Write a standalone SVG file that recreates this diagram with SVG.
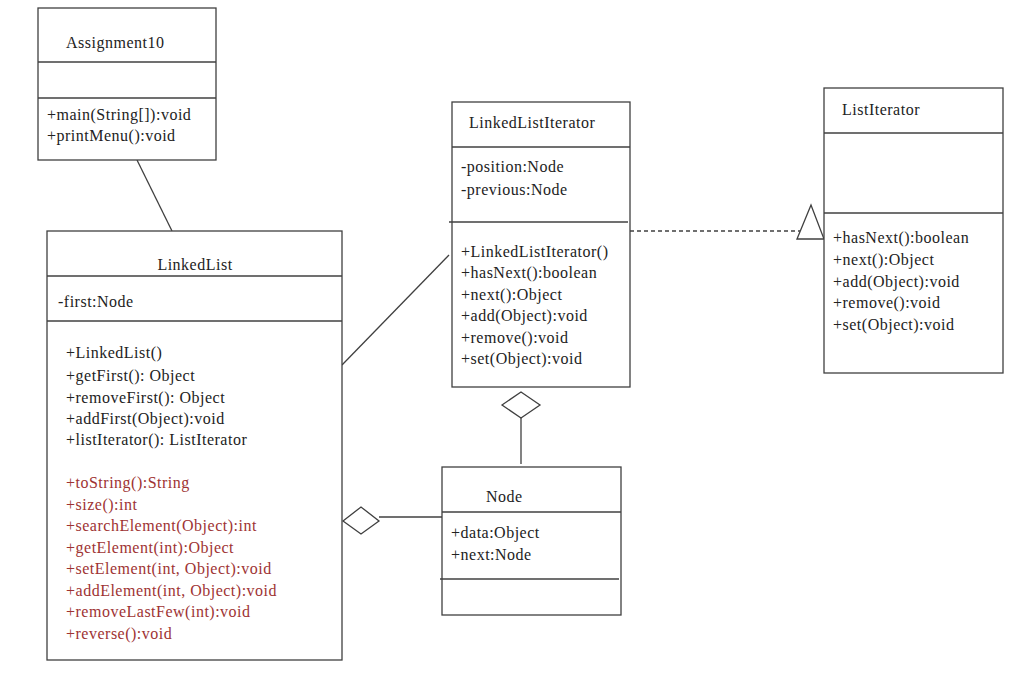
<svg xmlns="http://www.w3.org/2000/svg" width="1024" height="679" viewBox="0 0 1024 679">
<style>
.box{fill:#fff;stroke:#404040;stroke-width:1.3}
.ln{stroke:#404040;stroke-width:1.3;fill:none}
text{font-family:"Liberation Serif","Times New Roman",serif;font-size:16px;fill:#222;letter-spacing:0.5px}
.red{fill:#9e3333}
</style>
<rect width="1024" height="679" fill="#fff"/>
<g id="connectors">
<line class="ln" x1="137" y1="160" x2="172" y2="231"/>
<line class="ln" x1="342" y1="365" x2="449" y2="255"/>
<line class="ln" x1="630" y1="231" x2="800" y2="231" stroke-dasharray="4,3"/>
<polygon class="ln" points="797,239 811,205 824,239" style="fill:#fff"/>
<polygon class="ln" points="502,405 521,392 540,405 521,418" style="fill:#fff"/>
<line class="ln" x1="521" y1="418" x2="521" y2="464"/>
<polygon class="ln" points="343,521 361,507 379,521 361,534" style="fill:#fff"/>
<line class="ln" x1="379" y1="517" x2="442" y2="517"/>
</g>
<g id="Assignment10">
<rect class="box" x="38" y="8" width="178" height="152"/>
<line class="ln" x1="38" y1="62" x2="216" y2="62"/>
<line class="ln" x1="38" y1="98" x2="216" y2="98"/>
<text x="66" y="48">Assignment10</text>
<text x="47" y="120">+main(String[]):void</text>
<text x="47" y="141">+printMenu():void</text>
</g>
<g id="LinkedList">
<rect class="box" x="47" y="231" width="295" height="429"/>
<line class="ln" x1="47" y1="276" x2="342" y2="276"/>
<line class="ln" x1="47" y1="321" x2="342" y2="321"/>
<text x="195" y="270" text-anchor="middle">LinkedList</text>
<text x="58" y="307">-first:Node</text>
<text x="66" y="358">+LinkedList()</text>
<text x="66" y="381">+getFirst(): Object</text>
<text x="66" y="403">+removeFirst():  Object</text>
<text x="66" y="424">+addFirst(Object):void</text>
<text x="66" y="445">+listIterator(): ListIterator</text>
<g class="red">
<text class="red" x="66" y="488">+toString():String</text>
<text class="red" x="66" y="510">+size():int</text>
<text class="red" x="66" y="531">+searchElement(Object):int</text>
<text class="red" x="66" y="553">+getElement(int):Object</text>
<text class="red" x="66" y="574">+setElement(int, Object):void</text>
<text class="red" x="66" y="596">+addElement(int, Object):void</text>
<text class="red" x="66" y="617">+removeLastFew(int):void</text>
<text class="red" x="66" y="639">+reverse():void</text>
</g>
</g>
<g id="LinkedListIterator">
<rect class="box" x="452" y="102" width="178" height="285"/>
<line class="ln" x1="452" y1="147" x2="630" y2="147"/>
<line class="ln" x1="449" y1="222" x2="628" y2="222"/>
<text x="469" y="128">LinkedListIterator</text>
<text x="461" y="172">-position:Node</text>
<text x="461" y="195">-previous:Node</text>
<text x="461" y="257">+LinkedListIterator()</text>
<text x="461" y="278">+hasNext():boolean</text>
<text x="461" y="300">+next():Object</text>
<text x="461" y="321">+add(Object):void</text>
<text x="461" y="343">+remove():void</text>
<text x="461" y="364">+set(Object):void</text>
</g>
<g id="ListIterator">
<rect class="box" x="824" y="88" width="179" height="285"/>
<line class="ln" x1="824" y1="133" x2="1003" y2="133"/>
<line class="ln" x1="824" y1="213" x2="1003" y2="213"/>
<text x="842" y="115">ListIterator</text>
<text x="833" y="243">+hasNext():boolean</text>
<text x="833" y="265">+next():Object</text>
<text x="833" y="287">+add(Object):void</text>
<text x="833" y="308">+remove():void</text>
<text x="833" y="330">+set(Object):void</text>
</g>
<g id="Node">
<rect class="box" x="442" y="467" width="179" height="148"/>
<line class="ln" x1="442" y1="512" x2="621" y2="512"/>
<line class="ln" x1="440" y1="579" x2="619" y2="579"/>
<text x="486" y="502">Node</text>
<text x="451" y="538">+data:Object</text>
<text x="451" y="560">+next:Node</text>
</g>
</svg>
